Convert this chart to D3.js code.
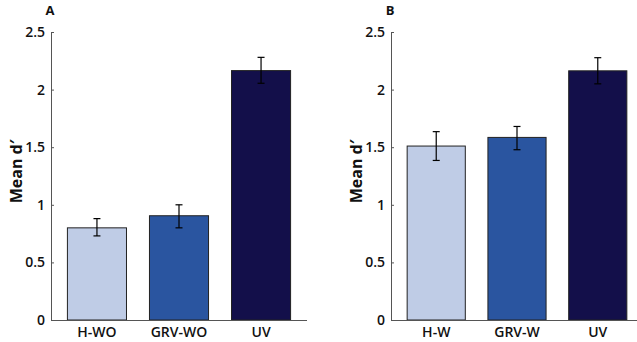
<!DOCTYPE html>
<html><head><meta charset="utf-8">
<script src="https://cdn.jsdelivr.net/npm/d3@7"></script>
<style>body{margin:0;background:#fff}svg{display:block}text{font-family:"Open Sans","Noto Sans",sans-serif}</style>
</head><body><svg id="c" width="637" height="342"></svg>
<script>
const catsA = ["H-WO","GRV-WO","UV"];
const meanA = [0.80, 0.905, 2.165];
const loA = [0.73, 0.80, 2.055];
const hiA = [0.88, 1.00, 2.28];
const catsB = ["H-W","GRV-W","UV"];
const meanB = [1.51, 1.585, 2.163];
const loB = [1.385, 1.478, 2.05];
const hiB = [1.635, 1.68, 2.277];
const colors = ["#bfcce6","#2a55a0","#130f4a"];
const yTicks = [0,0.5,1,1.5,2,2.5];
const yTickLabels = ["0","0.5","1","1.5","2","2.5"];

const svg = d3.select("#c");
function panel(x0, x1, axisEnd, letter, cats, mean, lo, hi){
  const g = svg.append("g");
  const y = d3.scaleLinear().domain([0,2.5]).range([320,32]);
  const x = d3.scaleBand().domain(cats).range([x0, x1]).paddingInner(0.28).paddingOuter(0.2);
  g.selectAll("rect.bar").data(cats).enter().append("rect")
    .attr("x", d=>x(d)).attr("width", x.bandwidth())
    .attr("y", (d,i)=>y(mean[i])).attr("height",(d,i)=>y(0)-y(mean[i]))
    .attr("fill",(d,i)=>colors[i]).attr("stroke","#222").attr("stroke-width",1);
  const eb = g.selectAll("g.eb").data(cats).enter().append("g");
  eb.append("line").attr("x1",d=>x(d)+x.bandwidth()/2).attr("x2",d=>x(d)+x.bandwidth()/2)
    .attr("y1",(d,i)=>y(lo[i])).attr("y2",(d,i)=>y(hi[i])).attr("stroke","#000").attr("stroke-width",1.2);
  [lo,hi].forEach(arr=>{
    eb.append("line").attr("x1",d=>x(d)+x.bandwidth()/2-3.5).attr("x2",d=>x(d)+x.bandwidth()/2+3.5)
      .attr("y1",(d,i)=>y(arr[i])).attr("y2",(d,i)=>y(arr[i])).attr("stroke","#000").attr("stroke-width",1.2);
  });
  const ya = g.append("g").attr("transform",`translate(${x0},0)`)
    .call(d3.axisLeft(y).tickValues(yTicks).tickFormat((d,i)=>yTickLabels[i]).tickSizeInner(-3).tickSizeOuter(0).tickPadding(6));
  ya.select(".domain").attr("stroke","#555");
  ya.selectAll(".tick line").attr("stroke","#555");
  ya.selectAll("text").attr("font-size",14).attr("font-weight",600).attr("fill","#111");
  const xa = g.append("g").attr("transform","translate(0,320)")
    .call(d3.axisBottom(x).tickSize(0).tickPadding(7));
  xa.select(".domain").attr("stroke","#555").attr("d",`M${x0},0.5H${axisEnd}`);
  xa.selectAll("text").attr("font-size",14).attr("font-weight",600).attr("fill","#111");
  g.append("text").attr("transform",`translate(${x0-29},${y(1.29)}) rotate(-90)`)
    .attr("text-anchor","middle").attr("font-size",16).attr("font-weight",700).attr("fill","#111").text("Mean d′");
  g.append("text").attr("x",x0-1).attr("y",15).attr("text-anchor","middle")
    .attr("font-size",13).attr("font-weight",700).attr("fill","#111").text(letter);
}
panel(51, 307, 307, "A", catsA, meanA, loA, hiA);
panel(391, 643, 637, "B", catsB, meanB, loB, hiB);
</script></body></html>
